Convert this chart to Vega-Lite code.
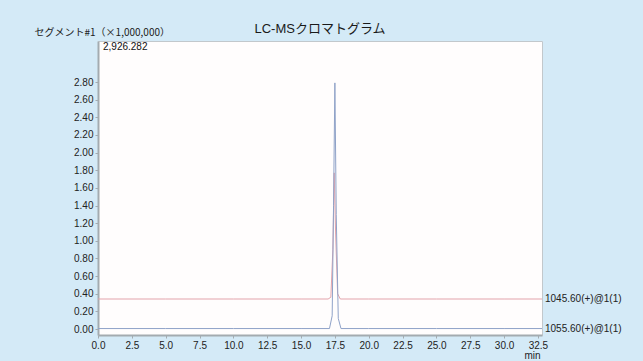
{
  "$schema": "https://vega.github.io/schema/vega-lite/v6.json",
  "width": 444,
  "height": 294,
  "autosize": {"type": "none"},
  "padding": {"left": 98, "top": 41, "right": 101, "bottom": 26},
  "background": "#d4eaf7",
  "title": {
    "text": "LC-MSクロマトグラム",
    "fontSize": 13,
    "fontWeight": "normal",
    "color": "#1a1a1a",
    "font": "Liberation Sans, Noto Sans CJK JP",
    "offset": -9,
    "anchor": "middle"
  },
  "config": {
    "font": "Liberation Sans, Noto Sans CJK JP",
    "view": {"stroke": "#c2c8cc", "strokeWidth": 1, "fill": "#fffdfd"},
    "axis": {
      "labelFontSize": 10,
      "labelColor": "#222",
      "domainColor": "#a3abb0",
      "domainWidth": 2,
      "tickColor": "#a3abb0",
      "tickSize": 3,
      "grid": false,
      "labelOverlap": false,
      "labelFlush": false,
      "labelFont": "Liberation Sans"
    }
  },
  "datasets": {
    "chrom": [
      {"series": "1045.60(+)@1(1)", "t": 0.0, "v": 0.34},
      {"series": "1045.60(+)@1(1)", "t": 5.0, "v": 0.34},
      {"series": "1045.60(+)@1(1)", "t": 10.0, "v": 0.34},
      {"series": "1045.60(+)@1(1)", "t": 15.0, "v": 0.34},
      {"series": "1045.60(+)@1(1)", "t": 17.0, "v": 0.34},
      {"series": "1045.60(+)@1(1)", "t": 17.2, "v": 0.36},
      {"series": "1045.60(+)@1(1)", "t": 17.35, "v": 0.9},
      {"series": "1045.60(+)@1(1)", "t": 17.45, "v": 1.77},
      {"series": "1045.60(+)@1(1)", "t": 17.55, "v": 1.1},
      {"series": "1045.60(+)@1(1)", "t": 17.7, "v": 0.4},
      {"series": "1045.60(+)@1(1)", "t": 17.9, "v": 0.34},
      {"series": "1045.60(+)@1(1)", "t": 20.0, "v": 0.34},
      {"series": "1045.60(+)@1(1)", "t": 25.0, "v": 0.34},
      {"series": "1045.60(+)@1(1)", "t": 30.0, "v": 0.34},
      {"series": "1045.60(+)@1(1)", "t": 32.8, "v": 0.34},
      {"series": "1055.60(+)@1(1)", "t": 0.0, "v": 0.005},
      {"series": "1055.60(+)@1(1)", "t": 5.0, "v": 0.005},
      {"series": "1055.60(+)@1(1)", "t": 10.0, "v": 0.005},
      {"series": "1055.60(+)@1(1)", "t": 15.0, "v": 0.005},
      {"series": "1055.60(+)@1(1)", "t": 17.1, "v": 0.005},
      {"series": "1055.60(+)@1(1)", "t": 17.3, "v": 0.15},
      {"series": "1055.60(+)@1(1)", "t": 17.4, "v": 1.4},
      {"series": "1055.60(+)@1(1)", "t": 17.5, "v": 2.79},
      {"series": "1055.60(+)@1(1)", "t": 17.6, "v": 1.3},
      {"series": "1055.60(+)@1(1)", "t": 17.75, "v": 0.12},
      {"series": "1055.60(+)@1(1)", "t": 17.95, "v": 0.005},
      {"series": "1055.60(+)@1(1)", "t": 20.0, "v": 0.005},
      {"series": "1055.60(+)@1(1)", "t": 25.0, "v": 0.005},
      {"series": "1055.60(+)@1(1)", "t": 30.0, "v": 0.005},
      {"series": "1055.60(+)@1(1)", "t": 32.8, "v": 0.005}
    ],
    "maxlabel": [{"text": "2,926.282"}]
  },
  "layer": [
    {
      "data": {"name": "chrom"},
      "mark": {"type": "line", "strokeWidth": 1, "clip": true},
      "encoding": {
        "x": {
          "field": "t",
          "type": "quantitative",
          "scale": {"domain": [0, 32.8], "nice": false, "zero": false},
          "axis": {
            "values": [0, 2.5, 5, 7.5, 10, 12.5, 15, 17.5, 20, 22.5, 25, 27.5, 30, 32.5],
            "format": ".1f",
            "labelOverlap": false,
            "labelFlush": false,
            "title": "min",
            "titleFontSize": 10,
            "titleFontWeight": "normal",
            "titleColor": "#222",
            "titleAlign": "center",
            "titleBaseline": "middle",
            "titleX": 434,
            "titleY": 20,
            "labelPadding": 2
          }
        },
        "y": {
          "field": "v",
          "type": "quantitative",
          "scale": {"domain": [-0.068, 3.265], "nice": false, "zero": false},
          "axis": {
            "values": [0, 0.2, 0.4, 0.6, 0.8, 1.0, 1.2, 1.4, 1.6, 1.8, 2.0, 2.2, 2.4, 2.6, 2.8],
            "format": ".2f",
            "labelOverlap": false,
            "labelFlush": false,
            "title": "セグメント#1（×1,000,000）",
            "titleFont": "Noto Sans CJK JP",
            "titleFontSize": 10,
            "titleFontWeight": "normal",
            "titleColor": "#222",
            "titleAngle": 0,
            "titleAlign": "left",
            "titleBaseline": "middle",
            "titleX": -64,
            "titleY": -9,
            "labelPadding": 2
          }
        },
        "color": {
          "field": "series",
          "type": "nominal",
          "scale": {"domain": ["1045.60(+)@1(1)", "1055.60(+)@1(1)"], "range": ["#e3a3ab", "#8fa2c8"]},
          "legend": null
        },
        "order": {"field": "t", "type": "quantitative"}
      }
    },
    {
      "data": {"name": "chrom"},
      "transform": [
        {"joinaggregate": [{"op": "max", "field": "t", "as": "tmax"}], "groupby": ["series"]},
        {"filter": "datum.t === datum.tmax"}
      ],
      "mark": {"type": "text", "align": "left", "baseline": "middle", "dx": 3, "fontSize": 10, "color": "#222", "clip": false},
      "encoding": {
        "x": {
          "field": "t",
          "type": "quantitative",
          "axis": {
            "values": [0, 2.5, 5, 7.5, 10, 12.5, 15, 17.5, 20, 22.5, 25, 27.5, 30, 32.5],
            "format": ".1f",
            "labelOverlap": false,
            "labelFlush": false,
            "title": "min",
            "titleFontSize": 10,
            "titleFontWeight": "normal",
            "titleColor": "#222",
            "titleAlign": "center",
            "titleBaseline": "middle",
            "titleX": 434,
            "titleY": 20,
            "labelPadding": 2
          }
        },
        "y": {
          "field": "v",
          "type": "quantitative",
          "axis": {
            "values": [0, 0.2, 0.4, 0.6, 0.8, 1.0, 1.2, 1.4, 1.6, 1.8, 2.0, 2.2, 2.4, 2.6, 2.8],
            "format": ".2f",
            "labelOverlap": false,
            "labelFlush": false,
            "title": "セグメント#1（×1,000,000）",
            "titleFont": "Noto Sans CJK JP",
            "titleFontSize": 10,
            "titleFontWeight": "normal",
            "titleColor": "#222",
            "titleAngle": 0,
            "titleAlign": "left",
            "titleBaseline": "middle",
            "titleX": -64,
            "titleY": -9,
            "labelPadding": 2
          }
        },
        "text": {"field": "series"}
      }
    },
    {
      "data": {"name": "maxlabel"},
      "mark": {"type": "text", "align": "left", "baseline": "top", "dx": 5, "dy": 1, "fontSize": 10, "color": "#111"},
      "encoding": {
        "x": {
          "datum": 0,
          "type": "quantitative",
          "axis": {
            "values": [0, 2.5, 5, 7.5, 10, 12.5, 15, 17.5, 20, 22.5, 25, 27.5, 30, 32.5],
            "format": ".1f",
            "labelOverlap": false,
            "labelFlush": false,
            "title": "min",
            "titleFontSize": 10,
            "titleFontWeight": "normal",
            "titleColor": "#222",
            "titleAlign": "center",
            "titleBaseline": "middle",
            "titleX": 434,
            "titleY": 20,
            "labelPadding": 2
          }
        },
        "y": {
          "datum": 3.265,
          "type": "quantitative",
          "axis": {
            "values": [0, 0.2, 0.4, 0.6, 0.8, 1.0, 1.2, 1.4, 1.6, 1.8, 2.0, 2.2, 2.4, 2.6, 2.8],
            "format": ".2f",
            "labelOverlap": false,
            "labelFlush": false,
            "title": "セグメント#1（×1,000,000）",
            "titleFont": "Noto Sans CJK JP",
            "titleFontSize": 10,
            "titleFontWeight": "normal",
            "titleColor": "#222",
            "titleAngle": 0,
            "titleAlign": "left",
            "titleBaseline": "middle",
            "titleX": -64,
            "titleY": -9,
            "labelPadding": 2
          }
        },
        "text": {"field": "text"}
      }
    }
  ]
}
